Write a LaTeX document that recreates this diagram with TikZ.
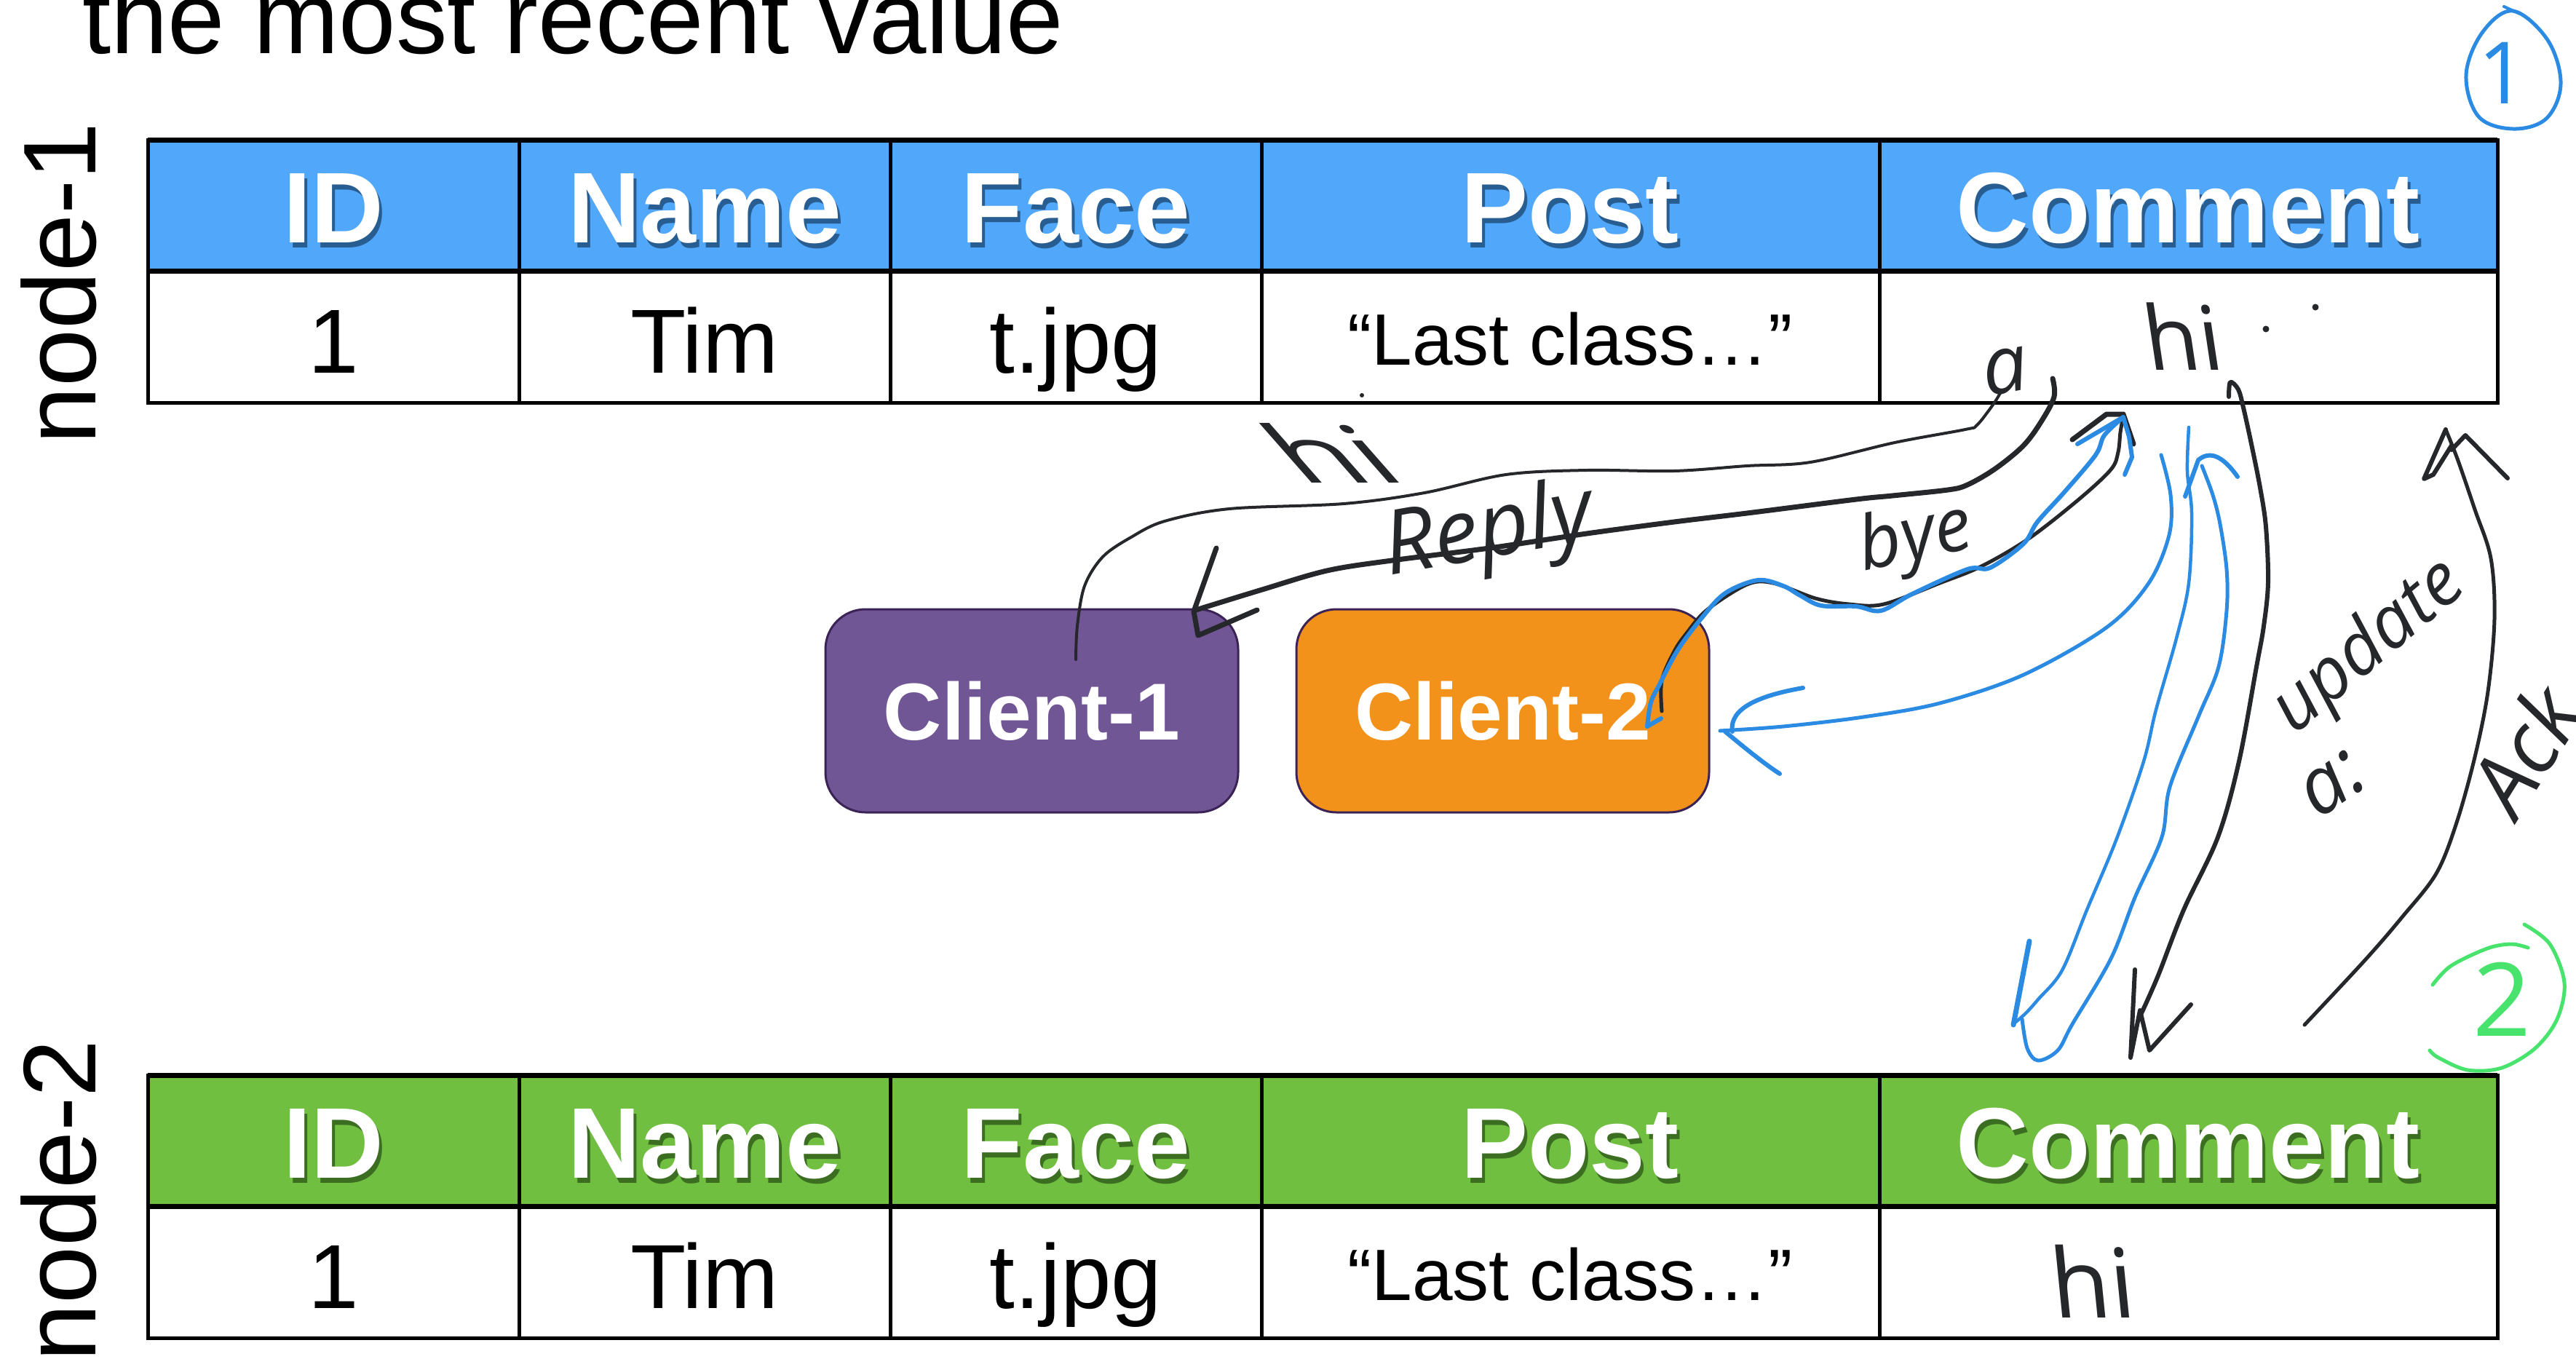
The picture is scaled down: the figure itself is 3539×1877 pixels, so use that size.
\documentclass[tikz,border=0pt]{standalone}
\usepackage{fontspec}
\setmainfont{Liberation Sans}
\newfontfamily\handfont{Open Sans}
\usetikzlibrary{calc}

\definecolor{hdrblue}{HTML}{51A7F9}
\definecolor{hdrgreen}{HTML}{70BF41}
\definecolor{shblue}{HTML}{173E66}
\definecolor{shgreen}{HTML}{264D15}
\definecolor{cAfill}{HTML}{715696}
\definecolor{cBfill}{HTML}{F2921A}
\definecolor{cedge}{HTML}{3B2356}
\definecolor{ink}{HTML}{25272B}
\definecolor{bink}{HTML}{2B8BE3}
\definecolor{gink}{HTML}{48E36C}

\tikzset{
  tableline/.style={draw=black, line width=5pt},
  hdr/.style={anchor=base, inner sep=0pt, text=white, font=\fontsize{138}{160}\selectfont\bfseries},
  hdrshadow/.style={anchor=base, inner sep=0pt, opacity=0.7, font=\fontsize{138}{160}\selectfont\bfseries},
  cell/.style={anchor=base, inner sep=0pt, font=\fontsize{125}{150}\selectfont},
  postcell/.style={anchor=base, inner sep=0pt, font=\fontsize{100}{120}\selectfont},
  sidelabel/.style={rotate=90, anchor=base east, inner sep=0pt, font=\fontsize{142}{160}\selectfont},
  client/.style={draw=cedge, line width=3pt, rounded corners=55pt, minimum width=567pt,
    minimum height=279pt, inner sep=0pt, text=white, font=\fontsize{111}{130}\selectfont\bfseries},
  hand/.style={inner sep=0pt, text=ink, font=\handfont},
  pen/.style={draw=ink, line cap=round, line join=round},
  bpen/.style={draw=bink, line cap=round, line join=round},
  gpen/.style={draw=gink, line cap=round, line join=round},
}

% one replica table: #1 name prefix, #2 top edge, #3 header fill, #4 header text shadow
\newcommand{\dbtable}[4]{%
  \fill[#3] (203,#2) rectangle (3431,#2+180);
  \draw[tableline] (203,#2) rectangle (3431,#2+361);
  \draw[tableline, line width=7pt] (203,#2) -- (3431,#2);
  \draw[tableline, line width=7pt] (203,#2+180) -- (3431,#2+180);
  \foreach \x in {713,1223,1733,2582} \draw[tableline] (\x,#2) -- (\x,#2+361);
  \foreach \cx/\lbl/\nm in {458/ID/id,968/Name/name,1478/Face/face,2157/Post/post,3006/Comment/comment}{%
    \node[hdrshadow, text=#4] (#1\nm-sh) at (\cx+4,#2+148) {\lbl};
    \node[hdr] (#1\nm) at (\cx,#2+141) {\lbl};
  }
  \node[cell] (#1idv) at (458,#2+320) {1};
  \node[cell] (#1namev) at (968,#2+320) {Tim};
  \node[cell] (#1facev) at (1478,#2+320) {t.jpg};
  \node[postcell] (#1postv) at (2157,#2+309) {“Last class…”};
}

\begin{document}
\begin{tikzpicture}[x=1pt, y=-1pt]
\useasboundingbox (0,0) rectangle (3539,1877);
\fill[white] (0,0) rectangle (3539,1877);

% heading, partly cut by the top edge
\node[anchor=base west, inner sep=0pt, font=\fontsize{141}{150}\selectfont] (title) at (113,73) {the most recent value};

% the two replicas
\dbtable{na}{192}{hdrblue}{shblue}
\dbtable{nb}{1477}{hdrgreen}{shgreen}
\node[sidelabel] (labA) at (131,168) {node-1};
\node[sidelabel] (labB) at (131,1428) {node-2};

% clients
\node[client, fill=cAfill] (c1) at (1417.5,976.5) {Client-1};
\node[client, fill=cBfill] (c2) at (2064.5,976.5) {Client-2};

% stray pen dot in the post cell
\fill[ink] (1871,543) circle (3);

% comment values written by hand
\node[hand, anchor=base, font=\handfont\fontsize{122}{140}\selectfont, xslant=-0.15] (hiA) at (3005,508) {hi};
\fill[ink] (3113,452) circle (4.5);
\fill[ink] (3181,422) circle (4.5);
\node[hand, anchor=base, font=\handfont\fontsize{132}{150}\selectfont, xslant=-0.1] (hiB) at (2880,1810) {hi};

% connector end points
\coordinate (wS) at (1478,906);
\coordinate (wE) at (2748,540);
\coordinate (rS) at (2820,520);
\coordinate (rE) at (1643,838);
\coordinate (kS) at (2283,977);
\coordinate (kE) at (2917,571);
\coordinate (uS) at (2263,998);
\coordinate (uE) at (2917,573);
\coordinate (pS) at (2969,625);
\coordinate (pE) at (2363,1004);
\coordinate (dS) at (3007,587);
\coordinate (dE) at (2768,1405);
\coordinate (qS) at (2778,1400);
\coordinate (qE) at (3025,640);
\coordinate (vS) at (3062,545);
\coordinate (vE) at (2942,1392);
\coordinate (aS) at (3166,1408);
\coordinate (aE) at (3360,590);

% client-1 writes "hi" into the comment cell
\draw[pen, line width=4pt] plot[smooth, tension=0.55] coordinates {(wS) (1480,860) (1490,805) (1515,765) (1554,738) (1600,716) (1689,699) (1846,692) (1957,677) (2069,652) (2180,646) (2300,647) (2400,640) (2487,635) (2603,608) (2700,590) (2716,584) (2738,556) (wE)};
\node[hand, font=\handfont\itshape\fontsize{110}{130}\selectfont, rotate=10] (aMark) at (2755,510) {a};
\node[hand, font=\handfont\fontsize{108}{130}\selectfont, xscale=1.6, xslant=-0.55] (hiMsg) at (1826,622) {hi};

% reply back to client-1
\draw[pen, line width=7pt] plot[smooth, tension=0.55] coordinates {(rS) (2822,545) (2805,578) (2780,612) (2741,644) (2703,666) (2676,673) (2600,681) (2550,686) (2400,705) (2300,717) (2180,733) (2046,753) (1912,770) (1823,784) (1734,810) (rE)};
\draw[pen, line width=7pt] (1671,753) -- (1640,840) -- (1646,873) -- (1727,838);
\node[hand, font=\handfont\itshape\fontsize{122}{140}\selectfont, rotate=10] (reply) at (2045,734) {Reply};

% client-2 writes "bye"
\draw[pen, line width=5pt] plot[smooth, tension=0.55] coordinates {(kS) (2283,935) (2300,895) (2317,870) (2345,838) (2400,803) (2436,801) (2494,822) (2540,830) (2588,830) (2665,801) (2722,778) (2787,740) (2856,686) (2900,645) (2910,621) (2913,594) (kE)};
\draw[pen, line width=7pt] (2847,604) -- (2894,569) -- (2917,569) -- (2931,610);
\draw[bpen, line width=6pt] (2282,987) -- (uS);
\draw[bpen, line width=6pt] plot[smooth, tension=0.55] coordinates {(uS) (2268,965) (2280,940) (2305,893) (2337,850) (2370,815) (2415,797) (2450,805) (2473,818) (2502,832) (2550,833) (2584,839) (2627,816) (2703,782) (2734,780) (2780,747) (2799,717) (2837,675) (2879,625) (2891,598) (uE)};
\draw[bpen, line width=6pt] (2854,610) -- (2917,573) -- (2925,600) -- (2929,628) -- (2919,652);
\node[hand, font=\handfont\itshape\fontsize{102}{120}\selectfont, rotate=12] (bye) at (2632,742) {bye};

% node-1 answers client-2
\draw[bpen, line width=5pt] plot[smooth, tension=0.55] coordinates {(pS) (2982,680) (2980,735) (2952,801) (2894,862) (2780,927) (2665,966) (2560,985) (2450,998) (pE)};
\draw[bpen, line width=6pt] (2477,945) .. controls (2420,955) and (2375,972) .. (2380,1005);
\draw[bpen, line width=6pt] (2370,1005) .. controls (2400,1030) and (2425,1050) .. (2445,1063);

% node-1 forwards the update to node-2 and hears back (blue)
\draw[bpen, line width=4.5pt] plot[smooth, tension=0.55] coordinates {(dS) (3005,648) (3011,705) (3007,801) (2990,877) (2962,975) (2945,1046) (2908,1152) (2867,1250) (2833,1333) (2800,1373) (2783,1392) (dE)};
\draw[bpen, line width=7pt] (2788,1293) -- (2766,1408);
\draw[bpen, line width=5pt] plot[smooth, tension=0.55] coordinates {(qS) (2785,1440) (2800,1457) (2827,1443) (2847,1407) (2900,1317) (2933,1233) (2970,1150) (2981,1081) (3020,985) (3048,916) (3059,839) (3059,782) (3050,720) (3040,680) (qE)};
\draw[bpen, line width=6pt] (3002,682) -- (3020,632) .. controls (3040,615) and (3060,635) .. (3074,655);

% node-1 forwards the update to node-2 (black)
\draw[pen, line width=6pt] plot[smooth, tension=0.55] coordinates {(vS) (3064,525) (3075,535) (3082,560) (3093,610) (3105,670) (3113,724) (3116,800) (3110,860) (3100,916) (3076,1046) (3047,1150) (3000,1250) (2965,1340) (vE)};
\draw[pen, line width=6pt] (2933,1332) -- (2927,1453) -- (2940,1388) -- (2953,1443) -- (3010,1380);
\node[hand, font=\handfont\itshape\fontsize{100}{120}\selectfont, rotate=40] (upd) at (3255,890) {update};
\node[hand, font=\handfont\itshape\fontsize{108}{120}\selectfont, rotate=35] (aval) at (3205,1078) {a:};

% acknowledgement back to node-1
\draw[pen, line width=5pt] plot[smooth, tension=0.55] coordinates {(aS) (3250,1318) (3300,1260) (3347,1200) (3375,1130) (3400,1040) (3418,950) (3427,850) (3422,767) (3400,700) (3377,633) (aE)};
\draw[pen, line width=6pt] (3360,590) -- (3330,658) -- (3343,652) -- (3368,612);
\draw[pen, line width=6pt] (3368,618) -- (3387,598) -- (3445,657);
\node[hand, font=\handfont\itshape\fontsize{118}{140}\selectfont, rotate=58] (ack) at (3468,1030) {Ack};

% step marks
\draw[bpen, line width=5pt] plot[smooth cycle, tension=0.6] coordinates {(3452,15) (3500,55) (3518,115) (3498,163) (3452,177) (3405,160) (3388,103) (3410,45)};
\draw[bpen, line width=4pt] (3440,9) -- (3462,19);
\node[inner sep=0pt, text=bink, font=\handfont\fontsize{118}{130}\selectfont] (stepA) at (3438,100) {1};
\draw[gpen, line width=5pt] plot[smooth, tension=0.55] coordinates {(3468,1270) (3503,1297) (3523,1350) (3513,1400) (3483,1440) (3437,1467) (3390,1470) (3350,1453) (3338,1443)};
\draw[gpen, line width=5pt] plot[smooth, tension=0.55] coordinates {(3342,1353) (3367,1327) (3417,1303) (3450,1297) (3473,1302)};
\node[inner sep=0pt, text=gink, font=\handfont\fontsize{140}{150}\selectfont] (stepB) at (3437,1373) {2};
\end{tikzpicture}
\end{document}
